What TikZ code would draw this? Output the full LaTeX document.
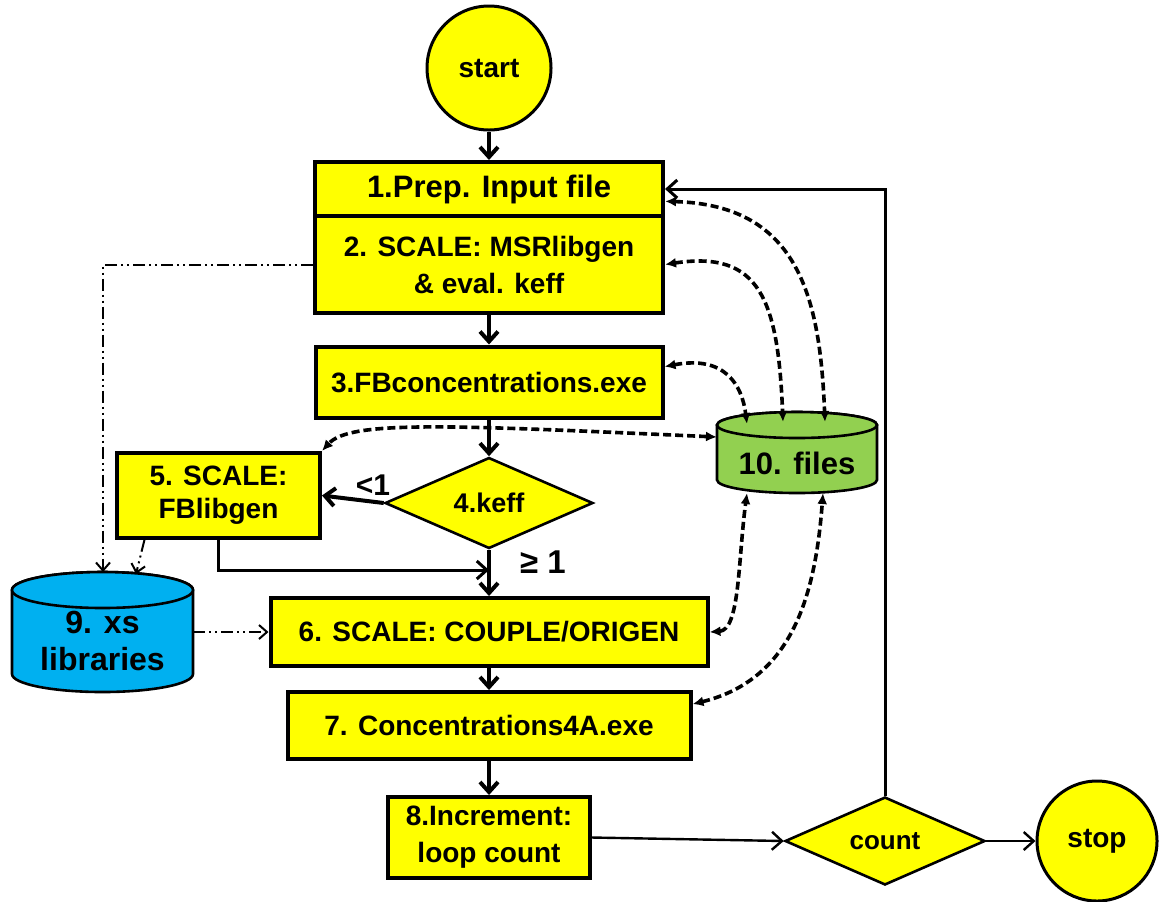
\documentclass[tikz,border=0pt]{standalone}
\usepackage{fontspec}
\setmainfont{Liberation Sans}
\usetikzlibrary{arrows.meta,shapes.geometric}
\definecolor{yel}{HTML}{FFFF00}
\definecolor{grn}{HTML}{92D050}
\definecolor{blu}{HTML}{00B0F0}
\begin{document}
\begin{tikzpicture}[x=0.5pt,y=-0.5pt,
 box/.style={draw, line width=2pt, fill=yel, font=\bfseries\fontsize{14}{18.5}\selectfont, align=center, inner sep=0pt},
 term/.style={circle, draw, line width=1.5pt, fill=yel, font=\bfseries\fontsize{14}{17}\selectfont, inner sep=0pt},
 dec/.style={diamond, draw, line width=1.3pt, fill=yel, inner sep=0pt, font=\bfseries\fontsize{13.5}{16}\selectfont},
 cyl/.style={line width=1.3pt},
 flow/.style={line width=2pt, -{Straight Barb[length=5pt,width=9pt]}},
 thinflow/.style={line width=1.2pt, -{Straight Barb[length=5pt,width=9pt]}},
 dsh/.style={line width=1.8pt, dash pattern=on 4pt off 2pt, {Latex[length=5.5pt,width=5pt]}-{Latex[length=5.5pt,width=5pt]}},
 dd/.style={line width=1pt, dash pattern=on 6pt off 2pt on 1pt off 2pt on 1pt off 2pt, -{Straight Barb[length=4pt,width=7pt]}},
 lbl/.style={font=\bfseries\fontsize{15}{18}\selectfont, inner sep=0pt}
]
\useasboundingbox (0,0) rectangle (1159,901);

% cylinders
\draw[cyl, fill=grn] (717,425) -- (717,480) arc[start angle=180,end angle=360,x radius=40pt,y radius=6.5pt] -- (877,425) arc[start angle=0,end angle=180,x radius=40pt,y radius=6.5pt] -- cycle;
\draw[cyl, fill=grn] (797,425) ellipse[x radius=40pt, y radius=6.5pt];
\node[font=\bfseries\fontsize{15.5}{18}\selectfont, inner sep=0pt] (files) at (797,463) {10. files};

\draw[cyl, fill=blu] (12,590) -- (12,674) arc[start angle=180,end angle=360,x radius=45.25pt,y radius=9pt] -- (193,590) arc[start angle=0,end angle=180,x radius=45.25pt,y radius=9pt] -- cycle;
\draw[cyl, fill=blu] (102.5,590) ellipse[x radius=45.25pt, y radius=9pt];
\node[font=\bfseries\fontsize{16}{18.5}\selectfont, align=center, inner sep=0pt] (xs) at (102.5,641) {9. xs\\libraries};

% attachment points on cylinders
\coordinate (fT1) at (747,424);
\coordinate (fT2) at (783,422);
\coordinate (fT3) at (825,422);
\coordinate (fW) at (717,437);
\coordinate (fB1) at (747,493);
\coordinate (fB2) at (823,493);
\coordinate (xsA) at (103,572);
\coordinate (xsB) at (136,574);
\coordinate (xsE) at (193,632);

% nodes
\node[term, minimum size=62pt] (start) at (489,68) {start};
\node[box, minimum width=174pt, minimum height=27pt, font=\bfseries\fontsize{15.5}{18}\selectfont] (b1) at (489,189) {1.Prep. Input file};
\node[box, minimum width=174pt, minimum height=48.5pt] (b2) at (489,264.5) {2. SCALE: MSRlibgen\\\& eval. keff};
\node[box, minimum width=173.5pt, minimum height=35.5pt] (b3) at (489,382) {3.FBconcentrations.exe};
\node[dec, minimum width=104pt, minimum height=45.5pt] (d4) at (489,503) {4.keff};
\node[box, minimum width=101.5pt, minimum height=42.5pt, font=\bfseries\fontsize{14}{16.5}\selectfont] (b5) at (218.5,495.5) {5. SCALE:\\FBlibgen};
\node[box, minimum width=218.5pt, minimum height=34pt] (b6) at (489,632) {6. SCALE: COUPLE/ORIGEN};
\node[box, minimum width=201.5pt, minimum height=33.5pt] (b7) at (489,725.5) {7. Concentrations4A.exe};
\node[box, minimum width=101pt, minimum height=40.5pt] (b8) at (489,837.5) {8.Increment:\\loop count};
\node[dec, minimum width=100pt, minimum height=41.5pt, font=\bfseries\fontsize{13}{16}\selectfont] (count) at (885,841) {count};
\node[term, minimum size=60pt] (stop) at (1097,841) {stop};

\node[lbl] (lt) at (373,485) {<1};
\node[lbl, font=\bfseries\fontsize{16.5}{19}\selectfont] (ge) at (543,562) {≥ 1};

\coordinate (j) at (489,570);

% main flow
\draw[flow] (start) -- (b1);
\draw[flow] (b2) -- (b3);
\draw[flow] (b3) -- (d4);
\draw[flow] (d4.west) -- (b5.east);
\draw[flow] (d4.south) -- (b6.north);
\draw[line width=1.5pt, -{Straight Barb[length=5pt,width=9pt]}] (b5.south) |- (j);
\draw[flow] (b6) -- (b7);
\draw[flow] (b7) -- (b8);
\draw[thinflow] (b8.east) -- (count.west);
\draw[thinflow] (count.east) -- (stop.west);
\draw[line width=1.5pt, -{Straight Barb[length=5pt,width=9pt]}] (count.north) |- (b1.east);

% dashed data links
\draw[dsh] (b1.-4.6) .. controls (800,205) and (820,300) .. (fT3);
\draw[dsh] (b2.east) .. controls (760,250) and (778,300) .. (fT2);
\draw[dsh] (b3.5.6) .. controls (725,355) and (742,385) .. (fT1);
\draw[dsh] (fW) .. controls (450,425) and (350,420) .. (b5.north east);
\draw[dsh] (b6.east) .. controls (740,630) and (738,560) .. (fB1);
\draw[dsh] (b7.6.65) .. controls (790,680) and (815,600) .. (fB2);

% dash-dot-dot links to libraries
\draw[dd] (b2.west) -| (xsA);
\draw[dd] (b5.211) -- (xsB);
\draw[dd] (xsE) -- (b6.west);
\end{tikzpicture}
\end{document}
